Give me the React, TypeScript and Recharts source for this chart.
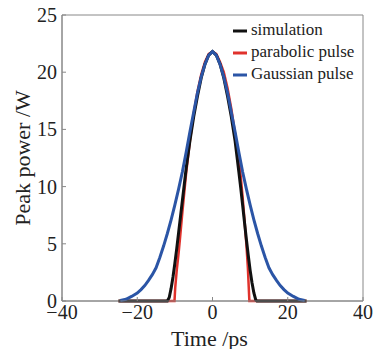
import React from 'react';
import { LineChart, Line, XAxis, YAxis, ReferenceArea } from 'recharts';

// Simulation (black)
const simTime = [-25, -12, -11.5, -11, -10.5, -10, -9.5, -9, -8.5, -8, -7.5, -7, -6, -5, -4, -3, -2, -1, 0, 1, 2, 3, 4, 5, 6, 7, 7.5, 8, 8.5, 9, 9.5, 10, 10.5, 11, 11.5, 11.8, 25];
const simPower = [0, 0, 0.3, 1.1, 2.1, 3.3, 4.6, 6.0, 7.4, 8.8, 10.2, 11.6, 14.0, 16.1, 17.9, 19.5, 20.7, 21.5, 21.8, 21.5, 20.7, 19.5, 17.9, 16.1, 14.0, 11.3, 9.9, 8.4, 6.9, 5.4, 4.0, 2.7, 1.6, 0.7, 0.1, 0, 0];

// Parabolic pulse (red)
const paraTime = [-25, -10.1, -9.9, -9.5, -9, -8.6, -8, -7, -6, -5, -4, -3, -2, -1, 0, 1, 2, 3, 4, 5, 6, 7, 7.5, 8, 8.5, 9, 9.4, 9.8, 25];
const paraPower = [0, 0, 1.2, 2.7, 4.2, 5.6, 7.8, 11.2, 14.0, 16.4, 18.3, 19.8, 20.9, 21.6, 21.8, 21.6, 20.9, 20.0, 18.6, 16.8, 14.6, 12.3, 10.9, 9.1, 7.1, 5.0, 2.9, 0, 0];

// Gaussian pulse (blue)
const gaussTime = [-24.5, -23, -21.5, -20, -19, -18, -17, -16, -15, -14, -13, -12, -11, -10, -9, -8, -7, -6, -5, -4, -3, -2, -1, 0, 1, 2, 3, 4, 5, 6, 7, 8, 9, 10, 11, 12, 13, 14, 15, 16, 17, 18, 19, 20, 21.5, 23, 24.5];
const gaussPower = [0.05, 0.15, 0.4, 0.7, 1.0, 1.35, 1.8, 2.3, 2.9, 3.8, 4.8, 5.9, 7.1, 8.4, 9.8, 11.3, 13.0, 14.8, 16.5, 18.2, 19.6, 20.7, 21.5, 21.8, 21.5, 20.7, 19.6, 18.2, 16.5, 14.8, 13.0, 11.3, 9.8, 8.4, 7.1, 5.9, 4.8, 3.8, 2.9, 2.3, 1.8, 1.35, 1.0, 0.7, 0.4, 0.15, 0.05];

const xTicks = [-40, -20, 0, 20, 40];
const yTicks = [0, 5, 10, 15, 20, 25];

const seriesNames = ['simulation', 'parabolic pulse', 'Gaussian pulse'];
const seriesColors = ['#111111', '#e0322c', '#2b55a6'];

const toData = (ts: number[], ps: number[]) => ts.map((t, i) => ({ t, p: ps[i] }));
const simData = toData(simTime, simPower);
const paraData = toData(paraTime, paraPower);
const gaussData = toData(gaussTime, gaussPower);

const FONT = "'Liberation Serif', 'Times New Roman', serif";
const fmt = (v: number) => String(v).replace('-', '\u2212');

const XTick = (props: any) => {
  const { x, y, payload } = props;
  return (
    <g>
      <line x1={x} y1={y} x2={x} y2={y - 4} stroke="#888" strokeWidth={1} />
      <text x={x} y={y + 18} textAnchor="middle" style={{ fontFamily: FONT, fontSize: 20 }} fill="#222">
        {fmt(payload.value)}
      </text>
    </g>
  );
};

const YTick = (props: any) => {
  const { x, y, payload } = props;
  return (
    <g>
      <line x1={x} y1={y} x2={x + 4} y2={y} stroke="#888" strokeWidth={1} />
      <text x={x - 5} y={y + 7} textAnchor="end" style={{ fontFamily: FONT, fontSize: 20 }} fill="#222">
        {fmt(payload.value)}
      </text>
    </g>
  );
};

export default function App() {
  return (
    <div style={{ position: 'absolute', left: 0, top: 0, width: 385, height: 349, background: '#fff', fontFamily: FONT }}>
      <LineChart width={385} height={349} margin={{ top: 15, right: 22, left: 0, bottom: 0 }}>
        <XAxis
          type="number"
          dataKey="t"
          domain={[-40, 40]}
          ticks={xTicks}
          allowDataOverflow
          height={48}
          tickSize={0}
          tickMargin={0}
          tickLine={false}
          tick={<XTick />}
          axisLine={{ stroke: '#888' }}
          label={{
            content: (p: any) => {
              const vb = p.viewBox || {};
              return (
                <text x={vb.x + vb.width / 2 - 3} y={vb.y + 45} textAnchor="middle" style={{ fontFamily: FONT, fontSize: 22 }} fill="#222">
                  Time /ps
                </text>
              );
            },
          }}
        />
        <YAxis
          type="number"
          domain={[0, 25]}
          ticks={yTicks}
          width={62}
          tickSize={0}
          tickMargin={0}
          tickLine={false}
          tick={<YTick />}
          axisLine={{ stroke: '#888' }}
          label={{
            content: (p: any) => {
              const vb = p.viewBox || {};
              const cx = 30;
              const cy = vb.y + vb.height / 2;
              return (
                <text x={cx} y={cy} transform={`rotate(-90, ${cx}, ${cy})`} textAnchor="middle" style={{ fontFamily: FONT, fontSize: 22 }} fill="#222">
                  Peak power /W
                </text>
              );
            },
          }}
        />
        <ReferenceArea x1={-40} x2={40} y1={0} y2={25} fill="none" stroke="#888" strokeWidth={1} ifOverflow="visible" />
        <Line data={paraData} dataKey="p" stroke={seriesColors[1]} strokeWidth={2.5} dot={false} isAnimationActive={false} name={seriesNames[1]} />
        <Line data={simData} dataKey="p" stroke={seriesColors[0]} strokeWidth={3} dot={false} isAnimationActive={false} name={seriesNames[0]} />
        <Line data={gaussData} dataKey="p" stroke={seriesColors[2]} strokeWidth={3} dot={false} isAnimationActive={false} name={seriesNames[2]} />
      </LineChart>
      <div style={{ position: 'absolute', left: 232, top: 19, fontFamily: FONT, fontSize: 17, color: '#222', lineHeight: '22px' }}>
        {seriesNames.map((n, i) => (
          <div key={n} style={{ display: 'flex', alignItems: 'center', height: 22 }}>
            <svg width={19} height={22} style={{ display: 'block' }}>
              <line x1={1} y1={12} x2={15} y2={12} stroke={seriesColors[i]} strokeWidth={3} />
            </svg>
            <span>{n}</span>
          </div>
        ))}
      </div>
    </div>
  );
}
